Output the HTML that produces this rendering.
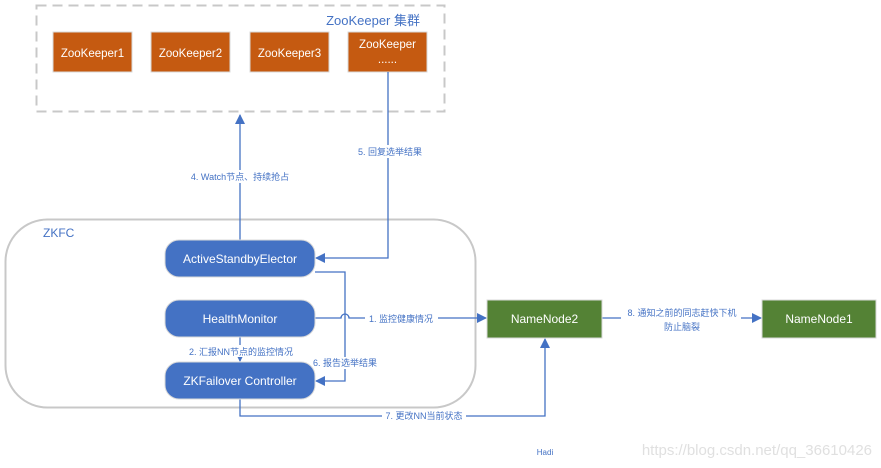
<!DOCTYPE html>
<html><head><meta charset="utf-8"><style>
html,body{margin:0;padding:0;background:#fff;}
svg{display:block;font-family:"Liberation Sans","Noto Sans CJK SC",sans-serif;}
</style></head><body>
<svg width="881" height="468" viewBox="0 0 881 468" xmlns="http://www.w3.org/2000/svg">
<defs>
<marker id="a" markerWidth="10" markerHeight="10" refX="9" refY="5" orient="auto" markerUnits="userSpaceOnUse">
<path d="M0,0 L10,5 L0,10 z" fill="#4472c4"/></marker>
<marker id="s" markerWidth="6" markerHeight="6" refX="5" refY="3" orient="auto" markerUnits="userSpaceOnUse">
<path d="M0,0 L6,3 L0,6 z" fill="#4472c4"/></marker>
</defs>
<!-- ZooKeeper cluster -->
<rect x="36.5" y="5.5" width="408" height="106" fill="none" stroke="#c8c8c8" stroke-width="2" stroke-dasharray="10,6"/>
<text x="420" y="25" font-size="13" fill="#4472c4" text-anchor="end">ZooKeeper 集群</text>
<g fill="#c55a11" stroke="#d9d9d9" stroke-width="1">
<rect x="53" y="32" width="79" height="40"/>
<rect x="151" y="32" width="79" height="40"/>
<rect x="250" y="32" width="79" height="40"/>
<rect x="348" y="32" width="79" height="40"/>
</g>
<g fill="#fff" font-size="11.5" text-anchor="middle">
<text x="92.5" y="57">ZooKeeper1</text>
<text x="190.5" y="57">ZooKeeper2</text>
<text x="289.5" y="57">ZooKeeper3</text>
<text x="387.5" y="48">ZooKeeper</text>
<text x="387.5" y="63">......</text>
</g>
<!-- ZKFC container -->
<rect x="5.5" y="219.5" width="470" height="188" rx="42" fill="none" stroke="#c8c8c8" stroke-width="2"/>
<text x="43" y="237" font-size="12" fill="#4472c4">ZKFC</text>
<!-- lines -->
<g stroke="#4472c4" stroke-width="1.3" fill="none">
<line x1="240" y1="240" x2="240" y2="115" marker-end="url(#a)"/>
<polyline points="388,72 388,258 316,258" marker-end="url(#a)"/>
<polyline points="315,272 345,272 345,381 316,381" marker-end="url(#a)"/>
<path d="M315,318 L341,318 A4,4 0 0 1 349,318 L486,318" marker-end="url(#a)"/>
<line x1="240" y1="337" x2="240" y2="361" marker-end="url(#s)"/>
<polyline points="240,399 240,416 545,416 545,339" marker-end="url(#a)"/>
<line x1="602" y1="318" x2="761" y2="318" marker-end="url(#a)"/>
</g>
<!-- labels with white bg -->
<g font-size="9" fill="#4472c4" text-anchor="middle">
<rect x="186" y="170" width="110" height="13" fill="#fff"/>
<text x="240" y="180">4. Watch节点、持续抢占</text>
<rect x="353" y="145" width="72" height="13" fill="#fff"/>
<text x="390" y="155">5. 回复选举结果</text>
<rect x="365" y="313" width="73" height="12" fill="#fff"/>
<text x="401" y="322">1. 监控健康情况</text>
<rect x="182" y="345" width="118" height="12" fill="#fff"/>
<text x="241" y="355">2. 汇报NN节点的监控情况</text>
<rect x="309" y="357" width="72" height="12" fill="#fff"/>
<text x="345" y="366">6. 报告选举结果</text>
<rect x="382" y="410" width="84" height="12" fill="#fff"/>
<text x="424" y="419">7. 更改NN当前状态</text>
<rect x="621" y="306" width="120" height="28" fill="#fff"/>
<text x="682" y="316">8. 通知之前的同志赶快下机</text>
<text x="682" y="330">防止脑裂</text>
</g>
<!-- blue rounded boxes -->
<g fill="#4472c4" stroke="#d9d9d9" stroke-width="1">
<rect x="165" y="240" width="150" height="37" rx="14"/>
<rect x="165" y="300" width="150" height="37" rx="14"/>
<rect x="165" y="362" width="150" height="37" rx="14"/>
</g>
<g fill="#fff" font-size="12" text-anchor="middle">
<text x="240" y="263">ActiveStandbyElector</text>
<text x="240" y="323">HealthMonitor</text>
<text x="240" y="385">ZKFailover Controller</text>
</g>
<!-- NameNodes -->
<g fill="#548235" stroke="#d9d9d9" stroke-width="1">
<rect x="487" y="300" width="115" height="38"/>
<rect x="762" y="300" width="114" height="38"/>
</g>
<g fill="#fff" font-size="12" text-anchor="middle">
<text x="544.5" y="323">NameNode2</text>
<text x="819" y="323">NameNode1</text>
</g>
<text x="545" y="455" font-size="8" fill="#4472c4" text-anchor="middle">Hadi</text>
<text x="872" y="455" font-size="15" fill="#e0e0e0" text-anchor="end">https://blog.csdn.net/qq_36610426</text>
</svg>
</body></html>
